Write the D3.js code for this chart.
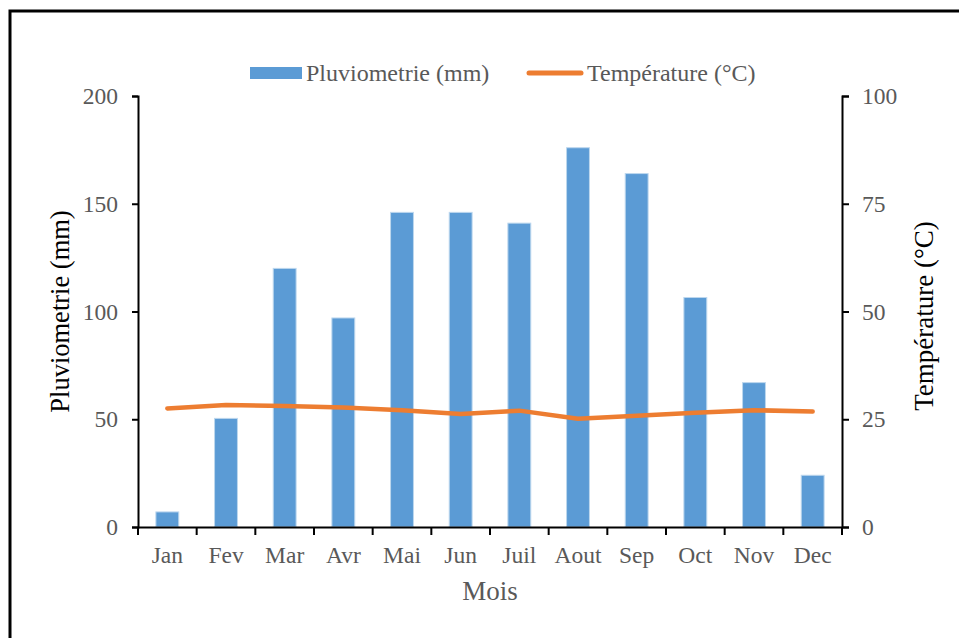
<!DOCTYPE html>
<html>
<head>
<meta charset="utf-8">
<script src="https://cdn.jsdelivr.net/npm/d3@7"></script>
<style>
  body { margin: 0; background: #fff; }
  svg { display: block; }
</style>
</head>
<body>
<div id="chart"></div>
<script>
// data
var months = ["Jan", "Fev", "Mar", "Avr", "Mai", "Jun", "Juil", "Aout", "Sep", "Oct", "Nov", "Dec"];
var pluie = [7, 50.4, 120, 97, 146, 146, 141, 176, 164, 106.5, 67, 24];
var temp = [27.5, 28.3, 28.1, 27.7, 27.1, 26.2, 27.0, 25.1, 25.8, 26.5, 27.1, 26.8];
var pluieTicks = [0, 50, 100, 150, 200];
var tempTicks = [0, 25, 50, 75, 100];

var width = 959, height = 638;
var m = { left: 138, right: 842, top: 96, bottom: 527 };
var font = "Liberation Serif, Times New Roman, serif";
var grey = "#595959";

var svg = d3.select("#chart").append("svg").attr("width", width).attr("height", height);

// outer frame (right and bottom fall outside the picture)
svg.append("rect")
    .attr("x", 10).attr("y", 11)
    .attr("width", 1000).attr("height", 700)
    .attr("fill", "none").attr("stroke", "#000").attr("stroke-width", 3);

var x = d3.scaleBand().domain(months).range([m.left, m.right]);
var yL = d3.scaleLinear().domain([0, 200]).range([m.bottom, m.top]);
var yR = d3.scaleLinear().domain([0, 100]).range([m.bottom, m.top]);

var barW = x.bandwidth() * 0.39;

svg.append("g").selectAll("rect")
    .data(pluie)
    .enter().append("rect")
    .attr("x", function (d, i) { return x(months[i]) + x.bandwidth() / 2 - barW / 2; })
    .attr("y", function (d) { return yL(d); })
    .attr("width", barW)
    .attr("height", function (d) { return yL(0) - yL(d); })
    .attr("fill", "#5b9bd5")
    .attr("stroke", "#bdd7ee")
    .attr("stroke-width", 1);

var line = d3.line()
    .x(function (d, i) { return x(months[i]) + x.bandwidth() / 2; })
    .y(function (d) { return yR(d); });

svg.append("path")
    .datum(temp)
    .attr("d", line)
    .attr("fill", "none")
    .attr("stroke", "#ed7d31")
    .attr("stroke-width", 4.5)
    .attr("stroke-linecap", "round")
    .attr("stroke-linejoin", "round");

// axes
function styleAxis(g) {
    g.attr("font-family", font).attr("font-size", 23.5);
    g.select(".domain").attr("stroke", "#000").attr("stroke-width", 2);
    g.selectAll(".tick line").attr("stroke", "#000").attr("stroke-width", 2);
    g.selectAll(".tick text").attr("fill", grey);
}

var xAxis = svg.append("g")
    .attr("transform", "translate(0," + m.bottom + ")")
    .call(d3.axisBottom(x).tickSize(0).tickPadding(19));
styleAxis(xAxis);
// Excel style ticks between categories
xAxis.selectAll(".sep")
    .data(d3.range(months.length + 1))
    .enter().append("line")
    .attr("x1", function (i) { return m.left + i * x.bandwidth(); })
    .attr("x2", function (i) { return m.left + i * x.bandwidth(); })
    .attr("y1", 0).attr("y2", 8)
    .attr("stroke", "#000").attr("stroke-width", 2);

var leftAxis = svg.append("g")
    .attr("transform", "translate(" + m.left + ",0)")
    .call(d3.axisLeft(yL).tickValues(pluieTicks).tickSize(6).tickPadding(14));
styleAxis(leftAxis);

var rightAxis = svg.append("g")
    .attr("transform", "translate(" + m.right + ",0)")
    .call(d3.axisRight(yR).tickValues(tempTicks).tickSize(7).tickPadding(13));
styleAxis(rightAxis);

// axis titles
svg.append("text")
    .attr("transform", "translate(69," + (m.top + m.bottom) / 2 + ") rotate(-90)")
    .attr("text-anchor", "middle")
    .attr("font-family", font).attr("font-size", 26.5)
    .attr("fill", "#000")
    .text("Pluviometrie (mm)");

svg.append("text")
    .attr("transform", "translate(933,316) rotate(-90)")
    .attr("text-anchor", "middle")
    .attr("font-family", font).attr("font-size", 27)
    .attr("fill", "#000")
    .text("Température (°C)");

svg.append("text")
    .attr("x", (m.left + m.right) / 2).attr("y", 600)
    .attr("text-anchor", "middle")
    .attr("font-family", font).attr("font-size", 27)
    .attr("fill", grey)
    .text("Mois");

// legend
var leg = svg.append("g").attr("font-family", font).attr("font-size", 24).attr("fill", grey);
leg.append("rect").attr("x", 250).attr("y", 67).attr("width", 52).attr("height", 12).attr("fill", "#5b9bd5");
leg.append("text").attr("x", 306).attr("y", 81).text("Pluviometrie (mm)");
leg.append("line").attr("x1", 529).attr("x2", 581).attr("y1", 73).attr("y2", 73)
    .attr("stroke", "#ed7d31").attr("stroke-width", 5).attr("stroke-linecap", "round");
leg.append("text").attr("x", 587).attr("y", 81).text("Température (°C)");
</script>
</body>
</html>
